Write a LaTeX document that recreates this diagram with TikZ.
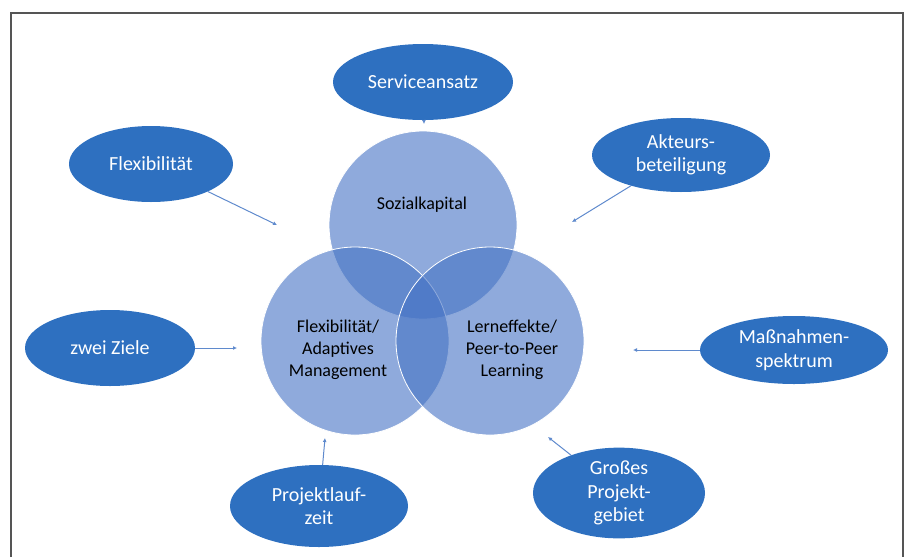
\documentclass[tikz,border=0pt]{standalone}
\usepackage{fontspec}
\setmainfont{Carlito}
\usetikzlibrary{positioning, arrows.meta, shapes.geometric, calc}
\definecolor{vennfill}{RGB}{68,114,196}
\definecolor{ovalblue}{RGB}{46,112,192}
\definecolor{linkblue}{RGB}{95,138,205}
\definecolor{framegray}{RGB}{85,85,85}

\begin{document}
\begin{tikzpicture}[x=1pt, y=-1pt, font=\fontsize{18}{22}\selectfont,
    venn/.style={circle, minimum size=188pt, inner sep=0pt,
      fill=vennfill, fill opacity=0.6, draw=white, line width=0.8pt},
    oval/.style 2 args={ellipse, fill=ovalblue, text=white, align=center,
      inner sep=0pt, minimum width=#1pt, minimum height=#2pt,
      font=\fontsize{20}{23.5}\selectfont},
    arr/.style={-{Latex[length=4pt, width=4pt]}, linkblue, line width=1pt}]
  \useasboundingbox (0,0) rectangle (909,557);
  \draw[framegray, line width=2pt] (11,557) -- (11,13) -- (903,13) -- (903,557);

  % three overlapping circles
  \node[venn] (csoz) at (423,225) {};
  \node[venn] (cflex) at (355,341) {};
  \node[venn] (clern) at (490,341) {};
  \node (tsoz) at (422,205) {Sozialkapital};
  \node[align=center] (tflex) at (338,350) {Flexibilität/\\Adaptives\\Management};
  \node[align=center] (tlern) at (512,350) {Lerneffekte/\\Peer-to-Peer\\Learning};

  % outer factors
  \node[oval={180}{76}] (service) at (423,82) {Serviceansatz};
  \node[oval={178}{74}] (akteur) at (681,155) {Akteurs-\\beteiligung};
  \node[oval={164}{76}] (flexi) at (151,164) {Flexibilität};
  \node[oval={170}{76}] (ziele) at (110,348) {zwei Ziele};
  \node[oval={188}{68}] (massn) at (794,350) {Maßnahmen-\\spektrum};
  \node[oval={178}{82}] (laufzeit) at (319,506) {Projektlauf-\\zeit};
  \node[oval={172}{90}] (gebiet) at (619,493) {Großes\\Projekt-\\gebiet};

  \coordinate (pservice) at (424,124);
  \coordinate (pakteur) at (572,222);
  \coordinate (pflexi) at (277,225);
  \coordinate (pziele) at (237,348);
  \coordinate (pmassn) at (633,350);
  \coordinate (plauf) at (325,438);
  \coordinate (pgebiet) at (548,437);

  \draw[arr] (service) -- (pservice);
  \draw[arr] (akteur) -- (pakteur);
  \draw[arr] (flexi) -- (pflexi);
  \draw[arr] (ziele) -- (pziele);
  \draw[arr] (massn) -- (pmassn);
  \draw[arr] (laufzeit) -- (plauf);
  \draw[arr] (gebiet) -- (pgebiet);
\end{tikzpicture}
\end{document}
